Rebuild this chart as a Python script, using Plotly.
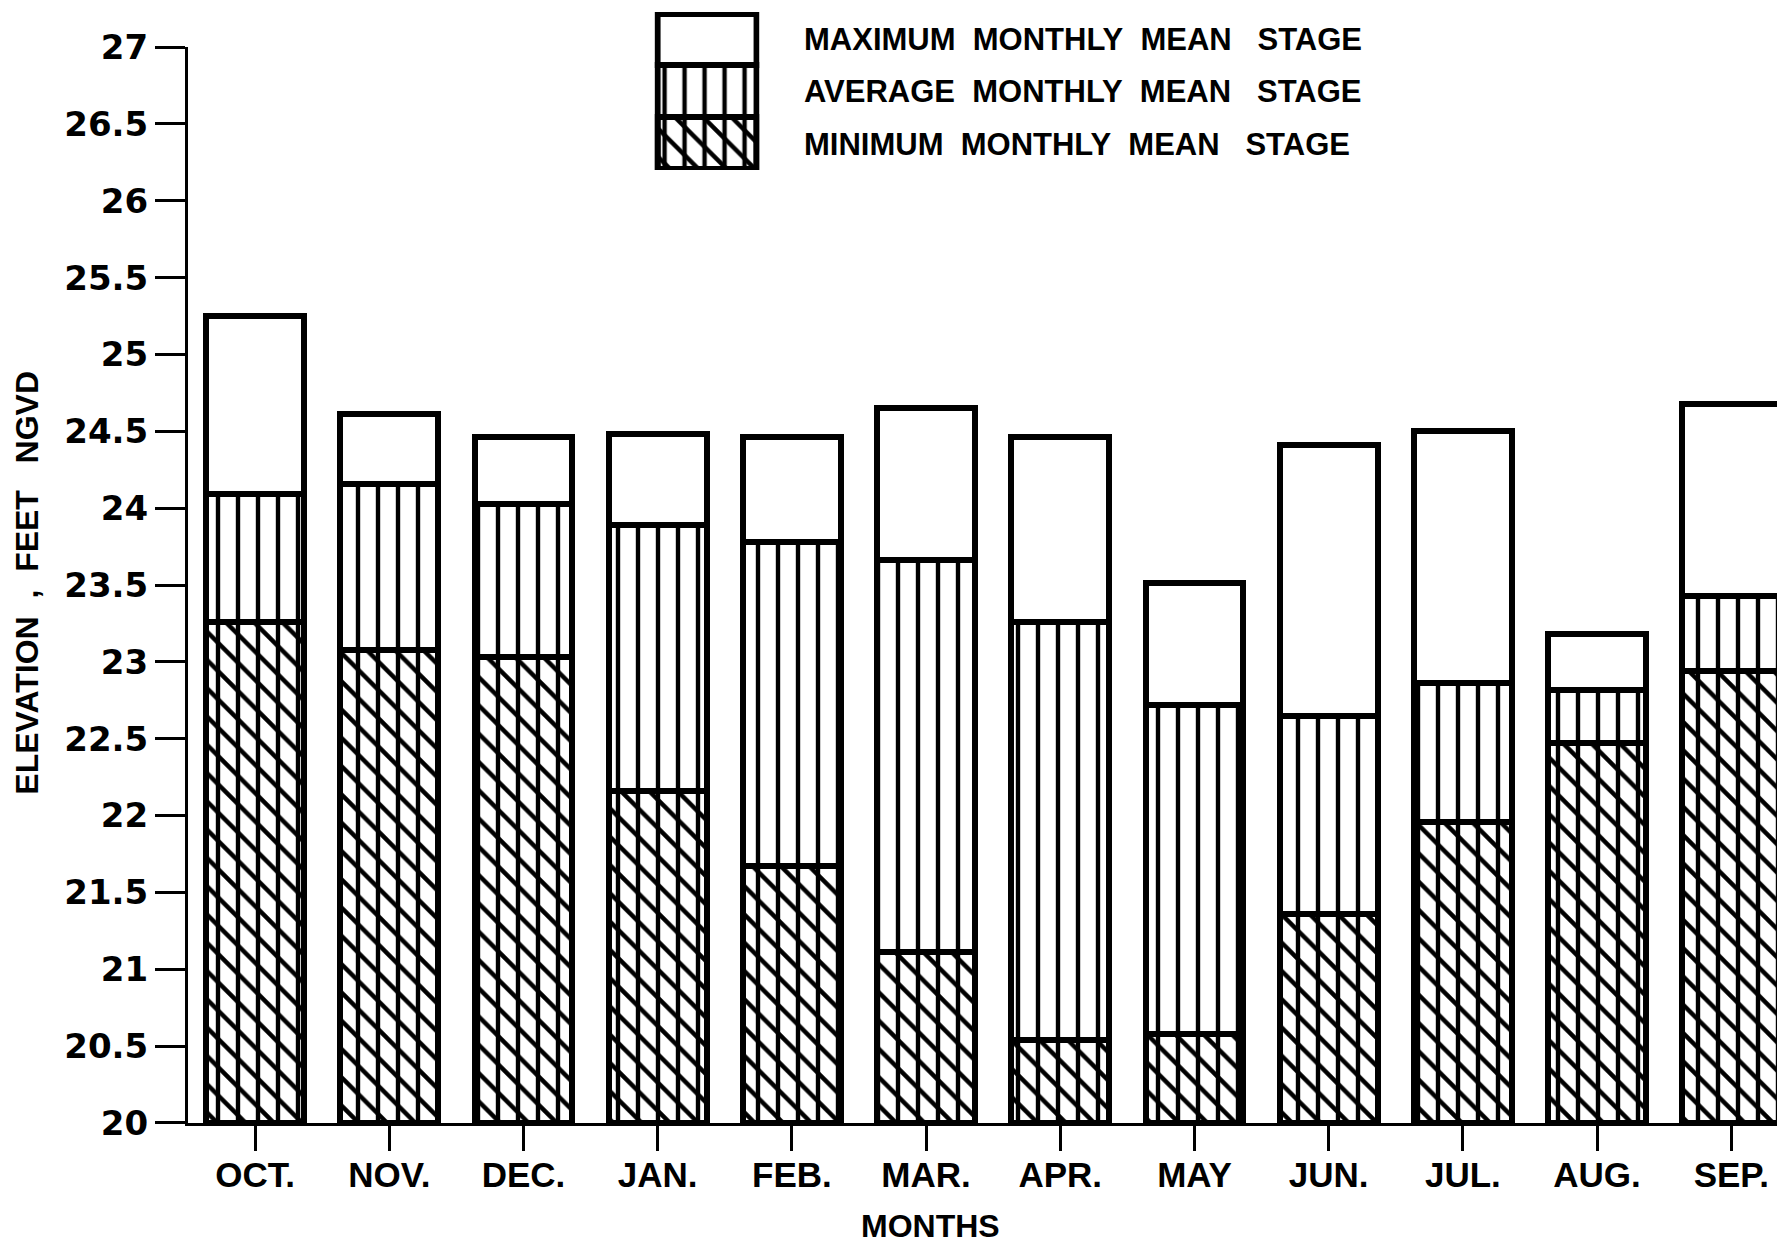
import plotly.graph_objects as go

months = ["OCT.", "NOV.", "DEC.", "JAN.", "FEB.", "MAR.", "APR.", "MAY", "JUN.", "JUL.", "AUG.", "SEP."]
max_stage = [25.25, 24.61, 24.46, 24.48, 24.46, 24.65, 24.46, 23.51, 24.41, 24.50, 23.18, 24.68]
avg_stage = [24.09, 24.16, 24.03, 23.89, 23.78, 23.66, 23.26, 22.72, 22.65, 22.86, 22.82, 23.43]
min_stage = [23.26, 23.08, 23.03, 22.16, 21.67, 21.11, 20.54, 20.58, 21.36, 21.96, 22.47, 22.94]
base_elev = 20
y_ticks = [20, 20.5, 21, 21.5, 22, 22.5, 23, 23.5, 24, 24.5, 25, 25.5, 26, 26.5, 27]
NB = "\u00a0"
legend_labels = ["MAXIMUM" + NB * 2 + "MONTHLY" + NB * 2 + "MEAN" + NB * 3 + "STAGE",
                 "AVERAGE" + NB * 2 + "MONTHLY" + NB * 2 + "MEAN" + NB * 3 + "STAGE",
                 "MINIMUM" + NB * 2 + "MONTHLY" + NB * 2 + "MEAN" + NB * 3 + "STAGE"]
y_title = "ELEVATION" + NB * 2 + "," + NB * 2 + "FEET" + NB * 3 + "NGVD"
x_title = "MONTHS"

FONT = "Liberation Sans"
NARROW = "Liberation Sans Narrow, Liberation Sans"
DIGITS = "DejaVu Sans"
BW = 0.73
LW = 6
PSIZE = 20
SOL = 0.22
CLEAR = "rgba(0,0,0,0)"

fig = go.Figure()

def h(vals):
    return [v - base_elev for v in vals]

fig.add_trace(go.Bar(x=months, y=h(max_stage), base=base_elev, width=BW,
                     marker=dict(color="white", line=dict(color="black", width=LW)),
                     showlegend=False, hoverinfo="skip"))
fig.add_trace(go.Bar(x=months, y=h(avg_stage), base=base_elev, width=BW,
                     marker=dict(color="white", line=dict(color="black", width=LW),
                                 pattern=dict(shape="|", bgcolor="white", fgcolor="black",
                                              fillmode="replace", size=PSIZE, solidity=SOL)),
                     showlegend=False, hoverinfo="skip"))
fig.add_trace(go.Bar(x=months, y=h(min_stage), base=base_elev, width=BW,
                     marker=dict(color=CLEAR, line=dict(color="black", width=LW),
                                 pattern=dict(shape="\\", bgcolor=CLEAR, fgcolor="black",
                                              fillmode="replace", size=PSIZE, solidity=SOL)),
                     showlegend=False, hoverinfo="skip"))

# legend box drawn as a tiny subplot
leg_x = ["L"]
fig.add_trace(go.Bar(x=leg_x, y=[1], base=[2], width=0.94, xaxis="x2", yaxis="y2",
                     marker=dict(color="white", line=dict(color="black", width=6)),
                     showlegend=False, hoverinfo="skip"))
fig.add_trace(go.Bar(x=leg_x, y=[2], base=[0], width=0.94, xaxis="x2", yaxis="y2",
                     marker=dict(color="white", line=dict(color="black", width=6),
                                 pattern=dict(shape="|", bgcolor="white", fgcolor="black",
                                              fillmode="replace", size=PSIZE, solidity=SOL)),
                     showlegend=False, hoverinfo="skip"))
fig.add_trace(go.Bar(x=leg_x, y=[1], base=[0], width=0.94, xaxis="x2", yaxis="y2",
                     marker=dict(color=CLEAR, line=dict(color="black", width=6),
                                 pattern=dict(shape="\\", bgcolor=CLEAR, fgcolor="black",
                                              fillmode="replace", size=PSIZE, solidity=SOL)),
                     showlegend=False, hoverinfo="skip"))

annotations = []
for lbl, yy in zip(legend_labels, [0.9715, 0.9253, 0.8773]):
    annotations.append(dict(text=lbl, x=0.3825, y=yy, xref="paper", yref="paper",
                            xanchor="left", yanchor="middle", showarrow=False,
                            font=dict(family=FONT, size=31, color="black", weight="bold")))
annotations.append(dict(text=y_title, x=-0.1005, y=0.4843, xref="paper", yref="paper",
                        textangle=-90, xanchor="center", yanchor="middle", showarrow=False,
                        font=dict(family=FONT, size=32, color="black", weight="bold")))
annotations.append(dict(text=x_title, x=0.4625, y=-0.0924, xref="paper", yref="paper",
                        xanchor="center", yanchor="middle", showarrow=False,
                        font=dict(family=FONT, size=32, color="black", weight="bold")))

fig.update_layout(
    width=1785, height=1242,
    margin=dict(l=180, r=0, t=0, b=127, pad=0),
    paper_bgcolor="white", plot_bgcolor="white",
    barmode="overlay", bargap=0,
    showlegend=False,
    annotations=annotations,
    xaxis=dict(type="category", categoryorder="array", categoryarray=months,
               range=[-0.50, 11.46], showline=True, linecolor="black", linewidth=3,
               ticks="outside", ticklen=25, tickwidth=3, tickcolor="black",
               showgrid=False, zeroline=False, automargin=False, ticklabelstandoff=-6,
               tickfont=dict(family=NARROW, size=35, color="black", weight="bold")),
    yaxis=dict(range=[20, 27], domain=[0, 0.965], tickvals=y_ticks,
               showline=True, linecolor="black", linewidth=3,
               ticks="outside", ticklen=30, tickwidth=3, tickcolor="black",
               showgrid=False, zeroline=False, automargin=False, ticklabelstandoff=0,
               tickfont=dict(family=DIGITS, size=34, color="black", weight="bold")),
    xaxis2=dict(domain=[0.2907, 0.3560], range=[-0.5, 0.5], visible=False,
                anchor="y2", automargin=False),
    yaxis2=dict(domain=[0.85466, 0.99646], range=[-0.03, 3.03], visible=False,
                anchor="x2", automargin=False),
)

fig.write_html("out.html")
